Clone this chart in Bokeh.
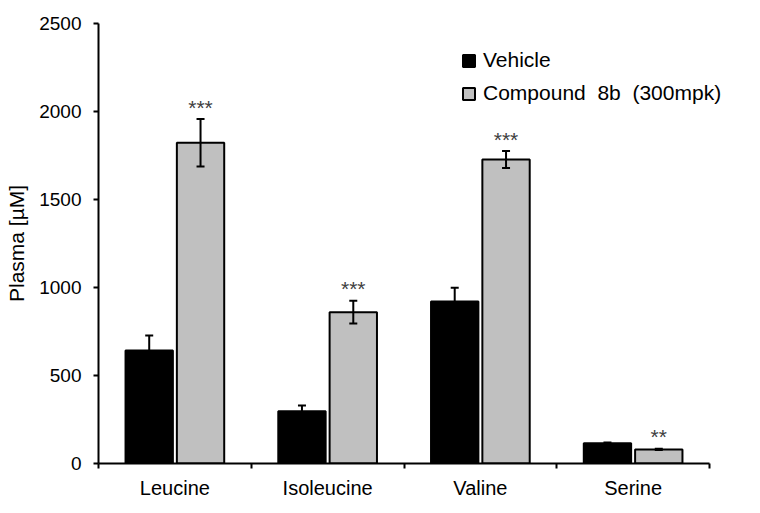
from bokeh.plotting import figure
from bokeh.models import (ColumnDataSource, FixedTicker, Whisker, TeeHead, Legend,
                          LegendItem, Range1d)
from bokeh.core.properties import value
from bokeh.embed import file_html
from bokeh.resources import INLINE

# ---- data ----
categories = ["Leucine", "Isoleucine", "Valine", "Serine"]
vehicle = [642, 297, 920, 115]
vehicle_err = [85, 33, 78, 5]
compound = [1822, 860, 1727, 80]
compound_err = [135, 65, 48, 4]
significance = ["***", "***", "***", "**"]
y_ticks = [0, 500, 1000, 1500, 2000, 2500]
series_names = ["Vehicle", "Compound  8b  (300mpk)"]

FONT = "Liberation Sans"
bar_w = 0.31
shift = 0.168

W, H = 752, 505
LEFT, RIGHT, TOP, BOTTOM = 98, 12, 23, 42
AXIS_END_PX = 709  # x axis ends here; frame extends a little further for the legend
n = len(categories)
x_end = n * (W - RIGHT - LEFT) / (AXIS_END_PX - LEFT)

idx = list(range(n))
centers = [i + 0.5 for i in idx]
veh_src = ColumnDataSource(dict(
    x=[c - shift for c in centers], top=vehicle,
    upper=[v + e for v, e in zip(vehicle, vehicle_err)],
    lower=[v - e for v, e in zip(vehicle, vehicle_err)]))
cmp_src = ColumnDataSource(dict(
    x=[c + shift for c in centers], top=compound,
    upper=[v + e for v, e in zip(compound, compound_err)],
    lower=[v - e for v, e in zip(compound, compound_err)],
    sig=significance))

p = figure(width=W, height=H, output_backend="svg", toolbar_location=None,
           x_range=Range1d(0, x_end), y_range=Range1d(0, 2500),
           min_border_left=LEFT, min_border_right=RIGHT, min_border_top=TOP,
           min_border_bottom=BOTTOM)
p.outline_line_color = None
p.grid.visible = False
p.background_fill_color = "white"

r_veh = p.vbar(x="x", top="top", width=bar_w, bottom=0, source=veh_src,
               fill_color="black", line_color="black", line_width=2)
r_cmp = p.vbar(x="x", top="top", width=bar_w, bottom=0, source=cmp_src,
               fill_color="#c0c0c0", line_color="black", line_width=2)

for src in (veh_src, cmp_src):
    w = Whisker(source=src, base="x", upper="upper", lower="lower",
                line_color="black", line_width=2, level="overlay",
                upper_head=TeeHead(size=8, line_width=2, line_color="black"),
                lower_head=TeeHead(size=8, line_width=2, line_color="black"))
    p.add_layout(w)

p.text(x="x", y="upper", text="sig", source=cmp_src, text_align="center",
       text_baseline="alphabetic", y_offset=-12, text_font=value(FONT),
       text_font_size="21px", text_color="#404040")

# x axis: labels at centres, ticks at boundaries
xa = p.xaxis[0]
xa.bounds = (0, n)
xa.ticker = FixedTicker(ticks=centers, minor_ticks=list(range(n + 1)))
xa.major_label_overrides = {c: nm for c, nm in zip(centers, categories)}
xa.major_tick_line_color = None
xa.major_tick_out = 0
xa.major_tick_in = 0
xa.minor_tick_out = 5
xa.minor_tick_in = 0
xa.minor_tick_line_width = 2
xa.minor_tick_line_color = "black"
xa.axis_line_width = 2
xa.axis_line_color = "black"
xa.major_label_text_font = FONT
xa.major_label_text_font_size = "20px"
xa.major_label_text_color = "black"
xa.major_label_standoff = 8

ya = p.yaxis[0]
ya.ticker = FixedTicker(ticks=y_ticks, minor_ticks=[])
ya.major_tick_out = 5
ya.major_tick_in = 0
ya.major_tick_line_width = 2
ya.major_tick_line_color = "black"
ya.axis_line_width = 2
ya.axis_line_color = "black"
ya.major_label_text_font = FONT
ya.major_label_text_font_size = "19px"
ya.major_label_text_color = "black"
ya.major_label_standoff = 12
ya.axis_label = "Plasma [µM]"
ya.axis_label_text_font = FONT
ya.axis_label_text_font_size = "21px"
ya.axis_label_text_font_style = "normal"
ya.axis_label_text_color = "black"
ya.axis_label_standoff = 8

legend = Legend(items=[LegendItem(label=series_names[0], renderers=[r_veh]),
                       LegendItem(label=series_names[1], renderers=[r_cmp])],
                location=(363, 358), orientation="vertical",
                border_line_color=None, background_fill_alpha=0,
                padding=0, margin=0, spacing=9, label_height=24,
                glyph_width=15, glyph_height=15, label_standoff=7,
                label_text_font=FONT, label_text_font_size="21px",
                label_text_color="black", label_text_baseline="middle")
p.add_layout(legend, "center")

open("out.html", "w").write(file_html(p, INLINE))
